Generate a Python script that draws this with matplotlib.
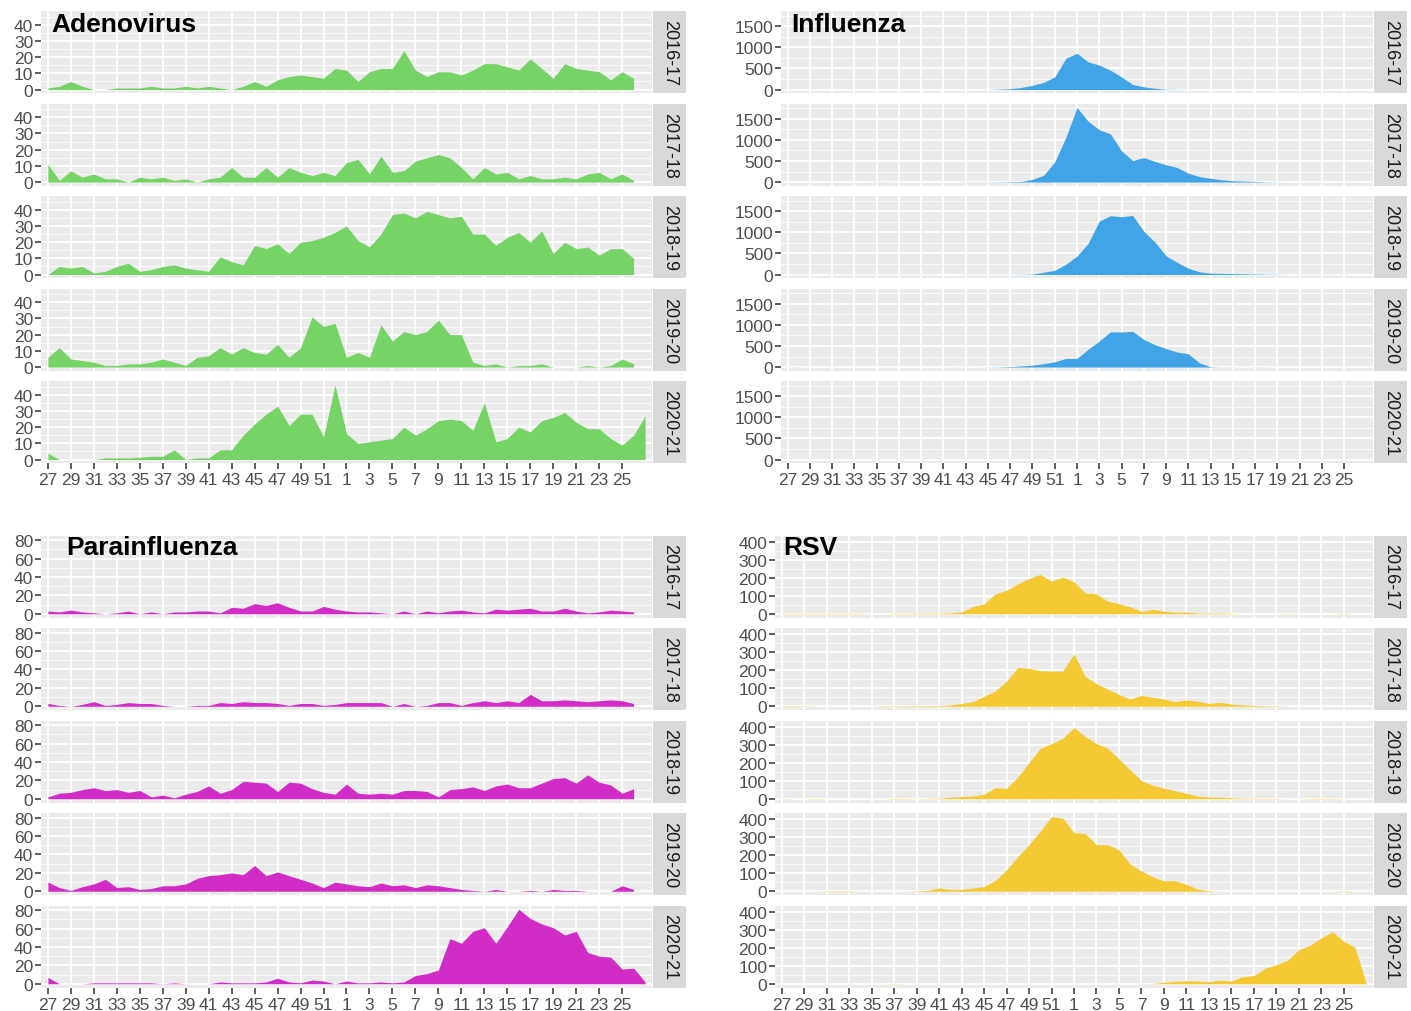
import matplotlib
matplotlib.use('Agg')
import matplotlib.pyplot as plt
import numpy as np

plt.rcParams['font.family'] = ['Liberation Sans', 'DejaVu Sans']

# week order of the season, 27 .. 52, 1 .. 26 (2020-21 has one extra week)
weeks = list(range(27, 53)) + list(range(1, 28))
tick_labels = [str(w) for w in weeks[0:51:2]]
seasons = ['2016-17', '2017-18', '2018-19', '2019-20', '2020-21']

adeno_1617 = [1, 2, 5, 2, 0, 0, 1, 1, 1, 2, 1, 1, 2, 1, 2, 1, 0, 2, 5, 2, 6, 8, 9, 8, 7, 13,
              12, 5, 11, 13, 13, 24, 12, 8, 11, 11, 9, 12, 16, 16, 14, 12, 19, 13, 7, 16, 13, 12, 11, 6, 11, 7]
adeno_1718 = [11, 1, 7, 3, 5, 2, 2, 0, 3, 2, 3, 1, 2, 0, 2, 3, 9, 3, 3, 9, 3, 9, 6, 4, 6, 4,
              12, 14, 5, 16, 6, 7, 13, 15, 17, 15, 9, 2, 9, 5, 6, 2, 4, 2, 2, 3, 2, 5, 6, 2, 5, 1]
adeno_1819 = [0, 5, 4, 5, 1, 2, 5, 7, 2, 3, 5, 6, 4, 3, 2, 11, 8, 6, 18, 16, 19, 13, 20, 21, 23, 26,
              30, 21, 17, 25, 37, 38, 35, 39, 37, 35, 36, 25, 25, 18, 23, 26, 20, 27, 13, 20, 16, 17, 12, 16, 16, 10]
adeno_1920 = [6, 12, 5, 4, 3, 1, 1, 2, 2, 3, 5, 3, 1, 6, 7, 12, 8, 12, 9, 8, 14, 6, 12, 31, 25, 27,
              6, 9, 6, 26, 16, 22, 20, 22, 29, 20, 20, 3, 1, 2, 0, 1, 1, 2, 0, 0, 0, 1, 0, 1, 5, 2]
adeno_2021 = [4, 0, 0, 0, 0, 1, 1, 1, 1.5, 2, 2, 6, 0, 1, 1, 6, 6, 15, 22, 28, 33, 21, 28, 28, 14, 46,
              16, 10, 11, 12, 13, 20, 15, 19, 24, 25, 24, 18, 35, 11, 13, 20, 17, 24, 26, 29, 23, 19, 19, 13, 9, 15, 27]

flu_1617 = [0] * 18 + [2, 10, 20, 50, 100, 170, 300, 740] + \
           [860, 655, 580, 460, 300, 120, 65, 30, 8, 3] + [0] * 16
flu_1718 = [0] * 8 + [3, 3] + [0] * 6 + [3, 3, 3, 5, 10, 16, 64, 160, 480, 1060] + \
           [1765, 1440, 1240, 1140, 740, 510, 580, 490, 410, 345, 210, 130, 90, 55, 32, 24, 16, 5, 2, 0, 0, 2, 0, 0, 0, 2]
flu_1819 = [2, 2, 0, 0] + [2] * 10 + [0, 0] + [2, 2, 2, 2, 3, 5, 10, 55, 100, 245] + \
           [440, 740, 1265, 1395, 1370, 1400, 1025, 770, 445, 290, 150, 65, 35, 28, 22, 18, 12, 8, 5, 0, 2, 2, 2, 2, 2, 0]
flu_1920 = [2, 2] + [0] * 7 + [2] + [0] * 5 + [2, 0, 0, 2, 5, 12, 28, 45, 80, 125, 205] + \
           [205, 420, 615, 835, 830, 845, 655, 530, 440, 355, 315, 100, 8, 2, 2, 0, 2, 2] + [0] * 8
flu_2021 = [0] * 53

para_1617 = [3, 2, 4, 2, 1, 0, 1, 3, 0, 2, 0, 2, 2, 3, 3, 1, 7, 6, 11, 9, 12, 7, 3, 3, 8, 5,
             3, 2, 2, 1, 0, 3, 0, 3, 1, 3, 4, 2, 1, 5, 4, 5, 6, 3, 3, 6, 3, 1, 2, 4, 3, 2]
para_1718 = [3, 1, 0, 2, 5, 1, 2, 4, 3, 3, 1, 0, 0, 1, 1, 4, 3, 5, 4, 4, 3, 1, 3, 3, 1, 2,
             4, 4, 4, 4, 0, 3, 0, 1, 4, 4, 1, 4, 6, 4, 6, 4, 13, 6, 6, 7, 6, 5, 6, 7, 6, 3]
para_1819 = [2, 6, 7, 10, 12, 9, 10, 7, 9, 2, 4, 1, 5, 8, 14, 6, 10, 19, 18, 17, 8, 18, 17, 11, 7, 5,
             16, 6, 5, 6, 5, 9, 9, 8, 2, 10, 11, 13, 9, 14, 16, 12, 12, 17, 22, 23, 17, 26, 18, 15, 6, 11]
para_1920 = [10, 4, 1, 5, 8, 13, 4, 5, 2, 3, 6, 6, 8, 14, 17, 18, 20, 18, 28, 17, 21, 17, 13, 9, 4, 10,
             8, 6, 5, 9, 6, 7, 4, 7, 6, 4, 2, 1, 0, 2, 0, 0, 1, 0, 2, 1, 1, 0, 0, 0, 6, 2]
para_2021 = [7, 0, 0, 0, 1, 1, 1, 1, 1, 1, 0, 1, 0, 0, 0, 2, 1, 1, 1, 2, 6, 2, 1, 4, 3, 0,
             3, 1, 1, 2, 1, 2, 9, 11, 15, 49, 44, 57, 61, 44, 62, 81, 71, 65, 61, 53, 57, 34, 30, 29, 16, 17, 2]

rsv_1617 = [2] * 8 + [0, 0, 2, 2, 3, 3, 3, 5, 10, 40, 55, 110, 130, 165, 195, 218, 180, 203] + \
           [177, 115, 110, 70, 56, 38, 14, 24, 14, 8, 9, 4, 4, 4, 2, 0, 0, 0, 0, 2, 0, 0, 0, 0, 2, 0]
rsv_1718 = [2, 2, 2] + [0] * 6 + [2, 2, 2, 3, 3, 4, 8, 15, 25, 55, 85, 140, 215, 210, 197, 195, 195] + \
           [290, 165, 125, 95, 65, 40, 60, 50, 40, 25, 35, 28, 15, 22, 12, 8, 5, 3, 2] + [0] * 7
rsv_1819 = [2, 0, 0, 2, 0, 0, 0, 0, 0, 0, 2, 2, 0, 2, 3, 8, 12, 15, 25, 62, 58, 120, 200, 280, 305, 335,
            395, 345, 305, 280, 220, 160, 100, 75, 58, 45, 30, 15, 10, 8, 5, 3, 2, 2, 2, 0, 0, 2, 2, 2, 0, 0]
rsv_1920 = [0, 0, 0, 0, 2, 2, 2, 0, 0, 0, 0, 0, 2, 5, 18, 10, 10, 18, 26, 60, 119, 192, 258, 333, 413, 405,
            325, 320, 258, 258, 230, 150, 112, 80, 58, 58, 38, 12, 3] + [0] * 11 + [2, 0]
rsv_2021 = [0] * 10 + [2] + [0] * 15 + \
           [0, 0, 0, 0, 0, 0, 0, 2, 8, 13, 17, 15, 11, 20, 15, 39, 45, 86, 105, 131, 189, 213, 254, 288, 235, 202, 0]

W, H = 1411, 1012
fig = plt.figure(figsize=(W / 100, H / 100), dpi=100)


def px_axes(x0, y0, w, h):
    return fig.add_axes([x0 / W, 1 - (y0 + h) / H, w / W, h / H])


def draw_virus(name, series, color, yticks, yminor, left, right, top, title_xy):
    ymax = max(max(s) for s in series)
    lo, hi = -0.05 * ymax, 1.05 * ymax
    fh, pitch = 82, 92.5
    for i, (season, vals) in enumerate(zip(seasons, series)):
        y0 = top + i * pitch
        ax = px_axes(left, y0, right - left, fh)
        ax.set_facecolor('#EBEBEB')
        x = np.arange(len(vals))
        ax.fill_between(x, 0, vals, color=color, lw=0)
        ax.set_xlim(-0.6, 52.6)
        ax.set_ylim(lo, hi)
        ax.set_yticks(yticks)
        ax.set_yticklabels([str(t) for t in yticks])
        ax.set_yticks(yminor, minor=True)
        ax.set_xticks(np.arange(0, 51, 2))
        ax.grid(True, which='major', color='white', lw=1.3)
        ax.grid(True, which='minor', axis='y', color='white', lw=0.6)
        ax.set_axisbelow(True)
        for sp in ax.spines.values():
            sp.set_visible(False)
        ax.tick_params(axis='y', which='major', length=4, width=1.1, color='#333333',
                       labelsize=12.5, labelcolor='#4D4D4D', pad=1.5)
        ax.tick_params(axis='y', which='minor', length=0)
        if i == len(seasons) - 1:
            ax.set_xticklabels(tick_labels)
            ax.tick_params(axis='x', length=4, width=1.1, color='#333333',
                           labelsize=12.5, labelcolor='#4D4D4D', pad=2.5)
        else:
            ax.tick_params(axis='x', length=0, labelbottom=False)
        # facet strip on the right
        st = px_axes(right + 1, y0, 33, fh)
        st.set_facecolor('#D9D9D9')
        st.set_xticks([])
        st.set_yticks([])
        for sp in st.spines.values():
            sp.set_visible(False)
        st.text(0.5, 0.5, season, rotation=270, ha='center', va='center',
                fontsize=13, color='#1A1A1A', transform=st.transAxes)
    fig.text(title_xy[0] / W, 1 - title_xy[1] / H, name, fontsize=19, fontweight='bold',
             ha='left', va='baseline', color='black')


draw_virus('Adenovirus', [adeno_1617, adeno_1718, adeno_1819, adeno_1920, adeno_2021],
           '#76D366', [0, 10, 20, 30, 40], [5, 15, 25, 35, 45], 41, 652, 12.3, (51, 31.5))
draw_virus('Influenza', [flu_1617, flu_1718, flu_1819, flu_1920, flu_2021],
           '#40A4E6', [0, 500, 1000, 1500], [250, 750, 1250, 1750], 781, 1373, 12.3, (791, 31.5))
draw_virus('Parainfluenza', [para_1617, para_1718, para_1819, para_1920, para_2021],
           '#D12DC6', [0, 20, 40, 60, 80], [10, 30, 50, 70], 41, 652, 536.5, (66, 555))
draw_virus('RSV', [rsv_1617, rsv_1718, rsv_1819, rsv_1920, rsv_2021],
           '#F4C933', [0, 100, 200, 300, 400], [50, 150, 250, 350], 775, 1373, 536.5, (783, 555))

fig.savefig('out.png', dpi=100, facecolor='white')
